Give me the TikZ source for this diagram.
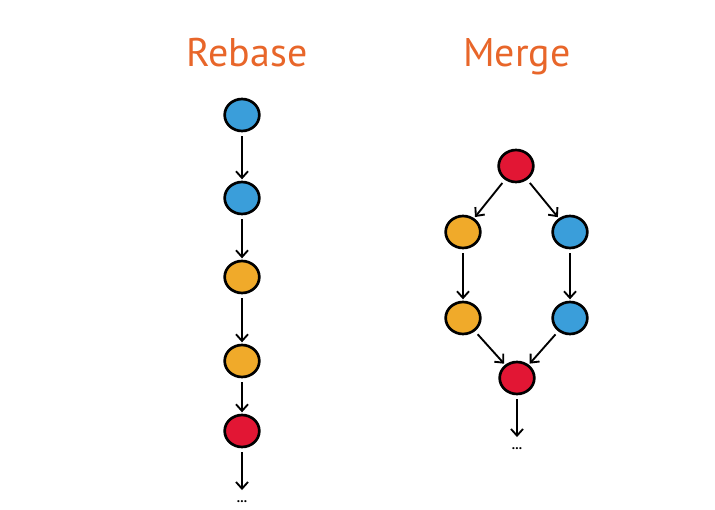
\documentclass[tikz,border=0pt]{standalone}
\usepackage{fontspec}
\setmainfont{PT Sans}
\usetikzlibrary{arrows.meta, shapes.geometric}

\definecolor{titleorange}{RGB}{232,102,42}
\definecolor{commitblue}{RGB}{58,158,218}
\definecolor{commityellow}{RGB}{240,170,42}
\definecolor{commitred}{RGB}{226,22,52}

\tikzset{
  commit/.style={ellipse, draw=black, line width=2pt, minimum width=26pt, minimum height=24pt, inner sep=0pt},
  link/.style={-{Straight Barb[length=5pt,width=9pt]}, line width=1.4pt, shorten <=3pt, shorten >=1pt},
  tail/.style={link, shorten >=8pt},
  title/.style={anchor=base, text=titleorange, font=\fontsize{30}{36}\selectfont},
  more/.style={inner sep=0pt, font=\bfseries\fontsize{10}{10}\selectfont}
}

\begin{document}
\begin{tikzpicture}[x=0.75pt, y=-0.75pt]
\useasboundingbox (0,0) rectangle (715,510);
     \node[title] (rebase) at (247,67) {Rebase};
     \node[title] (merge) at (517,67) {Merge};

% rebase: one straight line
     \node[commit, fill=commitblue]   (r1) at (242,115) {};
     \node[commit, fill=commitblue]   (r2) at (242,198) {};
     \node[commit, fill=commityellow] (r3) at (242,277) {};
     \node[commit, fill=commityellow] (r4) at (242,361) {};
     \node[commit, fill=commitred]    (r5) at (242,431) {};
     \node[more] (rdots) at (242,502) {...};
        \draw[link] (r1) -- (r2);
        \draw[link] (r2) -- (r3);
        \draw[link] (r3) -- (r4);
        \draw[link] (r4) -- (r5);
        \draw[tail] (r5) -- (rdots); %tail

% merge: two branches
     \node[commit, fill=commitred]    (m1) at (516,166) {};
     \node[commit, fill=commityellow] (m2) at (463,232) {}; %left
     \node[commit, fill=commitblue]   (m3) at (570,232) {}; %right
     \node[commit, fill=commityellow] (m4) at (463,318) {};
     \node[commit, fill=commitblue]   (m5) at (570,318) {};
     \node[commit, fill=commitred]    (m6) at (517,378) {}; %merge commit
     \node[more] (mdots) at (517,449) {...};
        \draw[link] (m1) -- (m2);
        \draw[link] (m1) -- (m3);
        \draw[link] (m2) -- (m4);
        \draw[link] (m3) -- (m5);
        \draw[link] (m4) -- (m6);
        \draw[link] (m5) -- (m6);
        \draw[tail] (m6) -- (mdots); %tail
\end{tikzpicture}
\end{document}
